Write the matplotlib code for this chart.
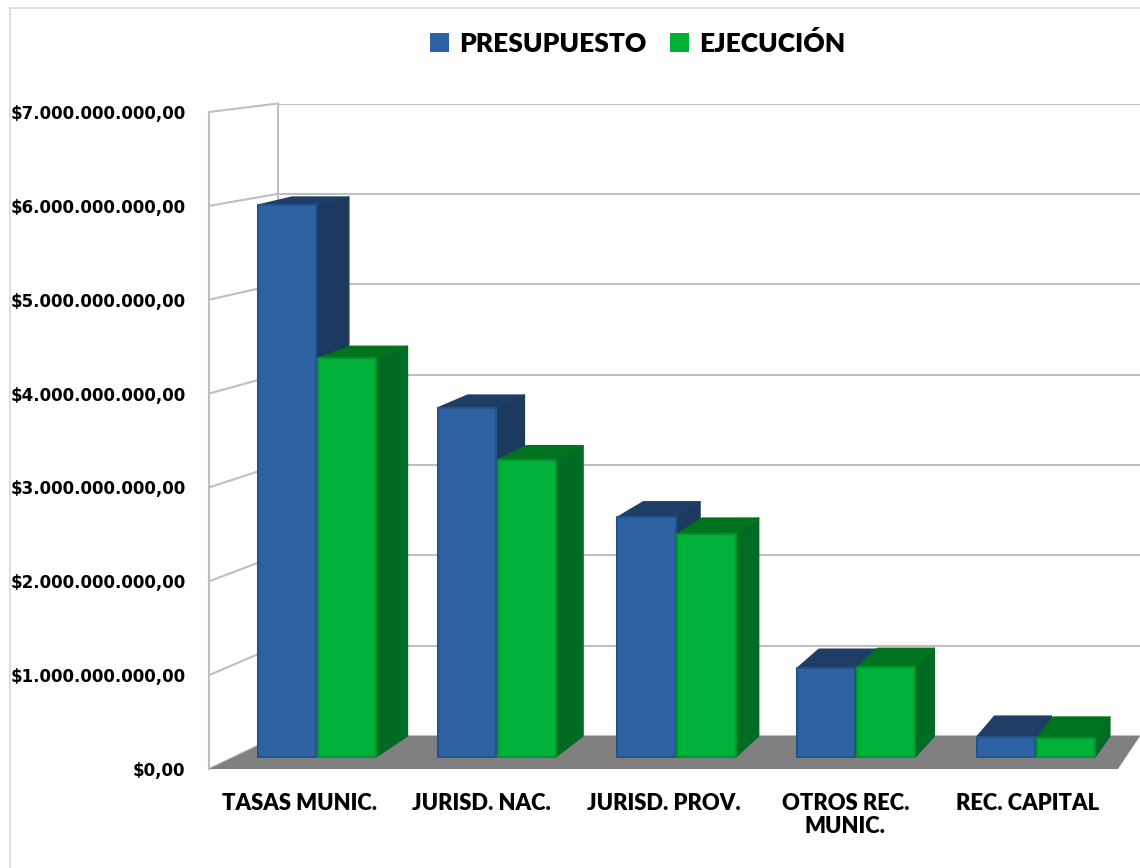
import matplotlib
matplotlib.use("Agg")
import matplotlib.pyplot as plt
import numpy as np
from matplotlib.patches import Patch, Polygon
from matplotlib.lines import Line2D
from matplotlib.ticker import FuncFormatter

# ---------------- data ----------------
categories = ["TASAS MUNIC.", "JURISD. NAC.", "JURISD. PROV.", "OTROS REC.\nMUNIC.", "REC. CAPITAL"]
presupuesto = [5.96e9, 3.77e9, 2.59e9, 0.96e9, 0.22e9]
ejecucion = [4.31e9, 3.21e9, 2.41e9, 0.97e9, 0.21e9]
series_names = ["PRESUPUESTO", "EJECUCIÓN"]
y_ticks = [0, 1e9, 2e9, 3e9, 4e9, 5e9, 6e9, 7e9]

# ---------------- style ----------------
FONT = "Lato"
TICKFONT = "DejaVu Sans"
front_cols = ["#2D63A3", "#00B139"]
side_cols = ["#1C3A60", "#006B22"]
top_cols = ["#1F3E66", "#00731F"]
edge_cols = ["#24528A", "#00962F"]
wall_col = "#BFBFBF"
floor_col = "#808080"

W, H = 1140, 868
fig = plt.figure(figsize=(W / 100, H / 100), dpi=100)
fig.patch.set_facecolor("white")


def plane(left, right, y0, y7, z):
    ax = fig.add_axes([left / W, 1 - y0 / H, (right - left) / W, (y0 - y7) / H], zorder=z)
    ax.set_xlim(-0.5, len(categories) - 0.5)
    ax.set_ylim(0, y_ticks[-1])
    ax.patch.set_alpha(0)
    return ax


# planes: wall front / wall back / bar front / bar back
ax_wb = plane(278, 1140, 736, 103.5, 0)
ax_wf = plane(209, 1118, 769, 112, 1)
ax_bb = plane(262, 1140, 736, 103, 2)
ax = plane(227, 1126, 757, 108.8, 3)
ax_bb.axis("off")

# back wall: gridlines
ax_wb.set_yticks(y_ticks)
ax_wb.set_xticks([])
ax_wb.tick_params(left=False, labelleft=False)
ax_wb.grid(axis="y", color=wall_col, lw=1.5)
for s in ("top", "right", "bottom"):
    ax_wb.spines[s].set_visible(False)
ax_wb.spines["left"].set_color(wall_col)
ax_wb.spines["left"].set_linewidth(1.5)

# front wall: tick labels and left front edge
ax_wf.set_yticks(y_ticks)
ax_wf.yaxis.set_major_formatter(
    FuncFormatter(lambda v, p: "$" + f"{v:,.2f}".replace(",", "X").replace(".", ",").replace("X", "."))
)
ax_wf.set_xticks(range(len(categories)))
ax_wf.set_xticklabels(categories, fontsize=15.8, fontweight="heavy", family=FONT, linespacing=1.15)
ax_wf.tick_params(axis="x", length=0, pad=17)
ax_wf.tick_params(axis="y", length=0, pad=17)
for lab in ax_wf.get_yticklabels():
    lab.set_fontsize(12)
    lab.set_fontweight("bold")
    lab.set_family(TICKFONT)
for s in ("top", "right", "bottom"):
    ax_wf.spines[s].set_visible(False)
ax_wf.spines["left"].set_color(wall_col)
ax_wf.spines["left"].set_linewidth(1.5)

# main axes (bar front plane)
ax.axis("off")
inv = ax.transData.inverted()


def proj(front_ax, back_ax, x, v, z):
    p0 = front_ax.transData.transform((x, v))
    p1 = back_ax.transData.transform((x, v))
    return inv.transform((1 - z) * p0 + z * p1)


x_lo, x_hi = -0.5, len(categories) - 0.5

# left side wall lines
for v in y_ticks:
    a = proj(ax_wf, ax_wb, x_lo, v, 0)
    b = proj(ax_wf, ax_wb, x_lo, v, 1)
    ax.add_line(Line2D([a[0], b[0]], [a[1], b[1]], color=wall_col, lw=1.5, zorder=0.5, clip_on=False))

# floor
floor = [proj(ax_wf, ax_wb, x_lo, 0, 0), proj(ax_wf, ax_wb, x_hi, 0, 0),
         proj(ax_wf, ax_wb, x_hi, 0, 1), proj(ax_wf, ax_wb, x_lo, 0, 1)]
ax.add_patch(Polygon(floor, closed=True, facecolor=floor_col, edgecolor="none", zorder=1, clip_on=False))

# bars
x = np.arange(len(categories))
bw = 0.323
offs = [-0.167, 0.167]
z = 2
for i in range(len(categories)):
    for s, vals in enumerate([presupuesto, ejecucion]):
        v = vals[i]
        xc = x[i] + offs[s]
        xl, xr = xc - bw / 2, xc + bw / 2
        side = [proj(ax, ax_bb, xr, 0, 0), proj(ax, ax_bb, xr, v, 0),
                proj(ax, ax_bb, xr, v, 1), proj(ax, ax_bb, xr, 0, 1)]
        top = [proj(ax, ax_bb, xl, v, 0), proj(ax, ax_bb, xr, v, 0),
               proj(ax, ax_bb, xr, v, 1), proj(ax, ax_bb, xl, v, 1)]
        ax.add_patch(Polygon(side, closed=True, facecolor=side_cols[s], edgecolor=side_cols[s],
                             lw=1, joinstyle="round", zorder=z, clip_on=False))
        ax.add_patch(Polygon(top, closed=True, facecolor=top_cols[s], edgecolor=top_cols[s],
                             lw=1, joinstyle="round", zorder=z + 0.1, clip_on=False))
        bars = ax.bar([xc], [v], width=bw, color=front_cols[s], edgecolor=edge_cols[s],
                      linewidth=1.5, zorder=z + 0.2, clip_on=False)
        for b in bars:
            b.set_joinstyle("round")
        z += 1

# legend
handles = [Patch(facecolor=c, edgecolor="none") for c in front_cols]
fig.legend(handles, series_names, loc="center", bbox_to_anchor=(638 / W, 1 - 43 / H), ncol=2,
           frameon=False, handlelength=0.7, handleheight=0.7, handletextpad=0.4, columnspacing=0.9,
           prop={"family": FONT, "weight": "heavy", "size": 19})

# chart border
fig.add_artist(Line2D([10 / W, 10 / W], [0, 1 - 8 / H], color="#D9D9D9", lw=1.2))
fig.add_artist(Line2D([10 / W, 1], [1 - 8 / H, 1 - 8 / H], color="#D9D9D9", lw=1.2))

fig.savefig("out.png", dpi=100, facecolor="white")
